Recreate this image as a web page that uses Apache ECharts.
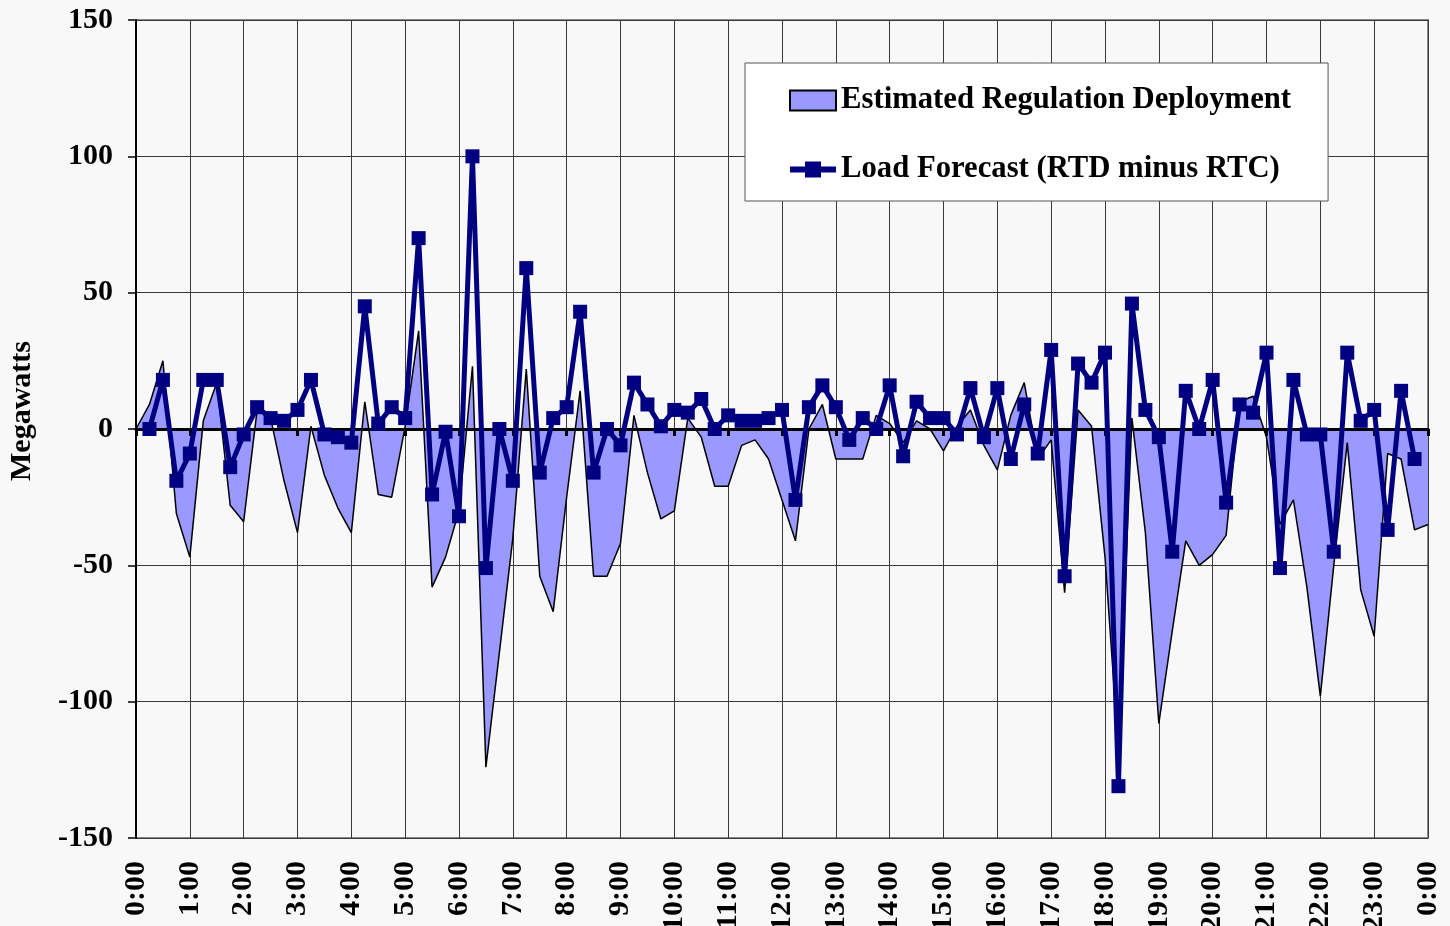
<!DOCTYPE html>
<html>
<head>
<meta charset="utf-8">
<title>Estimated Regulation Deployment vs Load Forecast</title>
<script src="https://cdn.jsdelivr.net/npm/echarts@6/dist/echarts.min.js"></script>
<style>
  html, body { margin: 0; padding: 0; background: #f8f8f8; }
  #chart { width: 1450px; height: 926px; }
</style>
</head>
<body>
<div id="chart"></div>
<script>
// 15-minute intervals over one day, 0:00 .. 24:00 (shown as 0:00)
const timeSlots = [];
for (let i = 0; i <= 96; i++) {
  const h = Math.floor(i / 4) % 24;
  const m = (i % 4) * 15;
  timeSlots.push(h + ':' + (m < 10 ? '0' + m : m));
}

const yTicks = [-150, -100, -50, 0, 50, 100, 150];

// Estimated regulation deployment (MW), one value per 15-minute slot
const regulationDeployment = [
  0, 9, 25, -31, -47, 3, 17, -28, -34, 7, 4, -19, -38, 1, -17, -29,
  -38, 10, -24, -25, 1, 36, -58, -47, -30, 23, -124, -82, -40, 22, -54, -67,
  -25, 14, -54, -54, -42, 5, -16, -33, -30, 4, -3, -21, -21, -6, -4, -11,
  -26, -41, 0, 9, -11, -11, -11, 5, 2, -5, 3, 0, -8, 1, 7, -6,
  -15, 5, 17, -11, -4, -60, 7, 1, -47, -118, 4, -38, -108, -74, -41, -50,
  -46, -39, 10, 12, -3, -35, -26, -58, -98, -50, -5, -59, -76, -9, -11, -37,
  -35
];

// Load forecast difference, RTD minus RTC (MW)
const loadForecast = [
  null, 0, 18, -19, -9, 18, 18, -14, -2, 8, 4, 3, 7, 18, -2, -3,
  -5, 45, 2, 8, 4, 70, -24, -1, -32, 100, -51, 0, -19, 59, -16, 4,
  8, 43, -16, 0, -6, 17, 9, 1, 7, 6, 11, 0, 5, 3, 3, 4,
  7, -26, 8, 16, 8, -4, 4, 0, 16, -10, 10, 4, 4, -2, 15, -3,
  15, -11, 9, -9, 29, -54, 24, 17, 28, -131, 46, 7, -3, -45, 14, 0,
  18, -27, 9, 6, 28, -51, 18, -2, -2, -45, 28, 3, 7, -37, 14, -11,
  null
];

const FONT = '"Liberation Serif", "Times New Roman", serif';
const hourly = (index) => index % 4 === 0;

const chart = echarts.init(document.getElementById('chart'), null, { renderer: 'canvas' });

chart.setOption({
  backgroundColor: '#f8f8f8',
  animation: false,
  grid: {
    left: 136, right: 22, top: 20, bottom: 88,
    containLabel: false,
    outerBoundsMode: 'none',
    show: true,
    backgroundColor: '#f8f8f8',
    borderColor: '#888',
    borderWidth: 2
  },
  legend: {
    left: 745,
    top: 63,
    orient: 'vertical',
    backgroundColor: '#ffffff',
    borderColor: '#555',
    borderWidth: 1,
    borderRadius: 0,
    padding: [22, 37, 16, 42],
    itemGap: 38,
    itemWidth: 46,
    itemHeight: 20,
    textStyle: { fontFamily: FONT, fontWeight: 'bold', fontSize: 30.7, color: '#000' },
    data: [
      {
        name: 'Estimated Regulation Deployment',
        icon: 'rect',
        itemStyle: { color: '#9999ff', borderColor: '#000', borderWidth: 2 }
      },
      {
        name: 'Load Forecast (RTD minus RTC)',
        lineStyle: { color: '#000080', width: 6 },
        itemStyle: { color: '#000080' }
      }
    ]
  },
  xAxis: [
    {
      type: 'category',
      data: timeSlots,
      boundaryGap: false,
      position: 'bottom',
      axisLine: { show: false, onZero: false },
      axisTick: { show: false },
      axisLabel: {
        interval: (index) => hourly(index),
        rotate: 90,
        margin: 23,
        fontFamily: FONT,
        fontWeight: 'bold',
        fontSize: 30,
        color: '#000'
      },
      splitLine: {
        show: true,
        interval: (index) => hourly(index),
        lineStyle: { color: '#3a3a3a', width: 1 }
      }
    },
    {
      type: 'category',
      data: timeSlots,
      boundaryGap: false,
      position: 'bottom',
      z: 3,
      axisLine: { show: true, onZero: true, lineStyle: { color: '#000', width: 3 } },
      axisTick: {
        show: true,
        interval: (index) => hourly(index),
        length: 7,
        lineStyle: { color: '#000', width: 3 }
      },
      axisLabel: { show: false },
      splitLine: { show: false }
    }
  ],
  yAxis: {
    type: 'value',
    min: yTicks[0],
    max: yTicks[yTicks.length - 1],
    interval: 50,
    name: 'Megawatts',
    nameLocation: 'middle',
    nameRotate: 90,
    nameGap: 99,
    nameTextStyle: {
      fontFamily: FONT, fontWeight: 'bold', fontSize: 30, color: '#000',
      padding: [0, 0, 0, 36]
    },
    axisLine: { show: true, lineStyle: { color: '#000', width: 2 } },
    axisTick: { show: true, length: 8, lineStyle: { color: '#000', width: 1.5 } },
    axisLabel: {
      margin: 23,
      fontFamily: FONT,
      fontWeight: 'bold',
      fontSize: 30,
      color: '#000'
    },
    splitLine: { show: true, lineStyle: { color: '#3a3a3a', width: 1 } }
  },
  series: [
    {
      name: 'Estimated Regulation Deployment',
      type: 'line',
      xAxisIndex: 0,
      data: regulationDeployment,
      symbol: 'none',
      z: 2,
      lineStyle: { color: '#000', width: 1.5 },
      itemStyle: { color: '#9999ff' },
      areaStyle: { color: '#9999ff', opacity: 1, origin: 'auto' }
    },
    {
      name: 'Load Forecast (RTD minus RTC)',
      type: 'line',
      xAxisIndex: 0,
      data: loadForecast,
      z: 4,
      symbol: 'rect',
      symbolSize: 14,
      showAllSymbol: true,
      lineStyle: { color: '#000080', width: 5 },
      itemStyle: { color: '#000080' }
    }
  ]
});
</script>
</body>
</html>
